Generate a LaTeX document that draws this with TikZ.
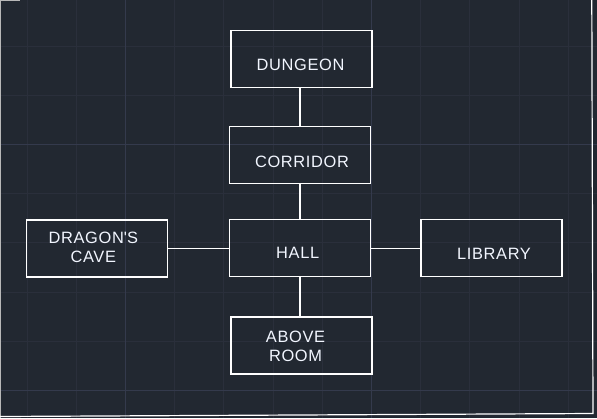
\documentclass[tikz,border=0pt]{standalone}
\usepackage{fontspec}
\setmainfont{Liberation Sans}
\newfontfamily\roomfont[LetterSpace=4]{Liberation Sans}
\usetikzlibrary{calc}
\definecolor{bg}{HTML}{222831}
\definecolor{gridminor}{HTML}{2A2F3B}
\definecolor{gridmajor}{HTML}{343A4C}
\definecolor{edge}{HTML}{B8B8B8}
\definecolor{txt}{HTML}{F2F6FF}
\begin{document}
\begin{tikzpicture}[x=1pt,y=-1pt,
  room/.style={draw=white, line width=1.3pt, minimum width=141pt, minimum height=57pt, inner sep=0pt},
  roomtext/.style={inner sep=0pt, align=center, text=txt, font=\roomfont\fontsize{16.4}{19.5}\selectfont},
  link/.style={draw=white, line width=1.3pt}]
\useasboundingbox (0,0) rectangle (597,418);
\fill[bg] (0,0) rectangle (597,418);
% grid
\foreach \i in {0,...,11} {
  \pgfmathsetmacro{\gx}{27+49.2*\i}
  \draw[gridminor, line width=0.8pt] (\gx,0) -- (\gx,418);
}
\foreach \i in {0,...,7} {
  \pgfmathsetmacro{\gy}{46+49.2*\i}
  \draw[gridminor, line width=0.8pt] (0,\gy) -- (597,\gy);
}
\draw[gridmajor, line width=1pt] (125.4,0) -- (125.4,418);
\draw[gridmajor, line width=1pt] (371.4,0) -- (371.4,418);
\draw[gridmajor, line width=1pt] (0,144.4) -- (597,144.4);
\draw[gridmajor, line width=1pt] (0,390.4) -- (597,390.4);
% viewport edges
\draw[edge, line width=1pt] (0.5,0) -- (0.5,418);
\draw[edge, line width=0.8pt] (0,0.4) -- (20,0.4);
\draw[white, line width=1.2pt] (591.8,0) -- (593,413.5) -- (0,416.5);
% rooms
\node[room] (dungeon) at (301.5,59.3) {};
\node[room] (corridor) at (300,155.3) {};
\node[room] (hall) at (300,248.3) {};
\node[room] (above) at (301.5,345.5) {};
\node[room] (cave) at (97.3,248.5) {};
\node[room] (library) at (491.5,248.3) {};
% texts
\node[roomtext] (dungeonT) at ($(dungeon)+(-1,5.7)$) {DUNGEON};
\node[roomtext] (corridorT) at ($(corridor)+(2,6.2)$) {CORRIDOR};
\node[roomtext] (hallT) at ($(hall)+(-2.3,5)$) {HALL};
\node[roomtext] (aboveT) at ($(above)+(-6,0.7)$) {ABOVE\\ROOM};
\node[roomtext] (caveT) at ($(cave)+(-4,-1)$) {DRAGON\textquotesingle S\\CAVE};
\node[roomtext] (libraryT) at ($(library)+(2.5,6)$) {LIBRARY};
% links
\draw[link] (dungeon.south -| hall.north) -- (corridor.north -| hall.north);
\draw[link] (corridor.south -| hall.north) -- (hall.north);
\draw[link] (hall.south) -- (above.north -| hall.south);
\draw[link] (hall.west) -- (cave.east |- hall.west);
\draw[link] (hall.east) -- (library.west |- hall.east);
\end{tikzpicture}
\end{document}
